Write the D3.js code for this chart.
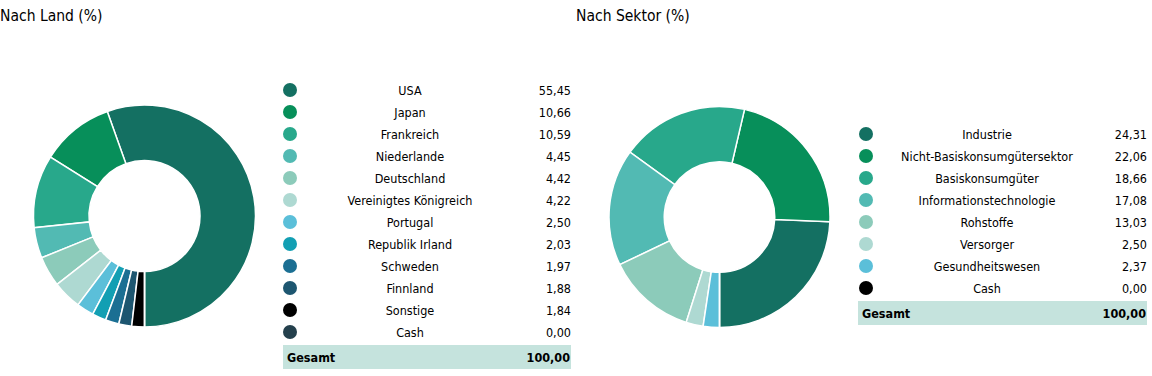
<!DOCTYPE html>
<html><head><meta charset="utf-8">
<script src="https://cdn.jsdelivr.net/npm/d3@7"></script>
<style>
body{margin:0;background:#fff;}
svg{display:block;font-family:"Liberation Sans Narrow","DejaVu Sans Condensed","Roboto Condensed",sans-serif;}
</style></head><body>
<svg id="c" width="1152" height="376"></svg>
<script>
const landLabels = ["USA","Japan","Frankreich","Niederlande","Deutschland","Vereinigtes Königreich","Portugal","Republik Irland","Schweden","Finnland","Sonstige","Cash"];
const landValues = [55.45,10.66,10.59,4.45,4.42,4.22,2.50,2.03,1.97,1.88,1.84,0.00];
const landColors = ["#147062","#078f5a","#28a88b","#52bab3","#8ccbba","#aed9d2","#5bbfd9","#129fb3","#1b6f93","#1d5670","#000000","#24404c"];
const sektorLabels = ["Industrie","Nicht-Basiskonsumgütersektor","Basiskonsumgüter","Informationstechnologie","Rohstoffe","Versorger","Gesundheitswesen","Cash"];
const sektorValues = [24.31,22.06,18.66,17.08,13.03,2.50,2.37,0.00];
const sektorColors = ["#147062","#078f5a","#28a88b","#52bab3","#8ccbba","#aed9d2","#5bbfd9","#000000"];
const totalLabel = "Gesamt";
const totalValue = "100,00";

const svg = d3.select("#c");
const fmt = v => v.toFixed(2).replace(".", ",");

function panel(cfg){
  const g = svg.append("g");
  g.append("text").attr("x", cfg.titleX).attr("y", 21).attr("font-size", 15.5).attr("fill", "#000").text(cfg.title);
  const pie = d3.pie().sort(null).startAngle(Math.PI).endAngle(-Math.PI);
  const arc = d3.arc().innerRadius(cfg.r * 0.5).outerRadius(cfg.r);
  const arcs = pie(cfg.values);
  g.append("g").attr("transform", `translate(${cfg.cx},${cfg.cy})`)
    .selectAll("path").data(arcs).join("path")
    .attr("d", arc).attr("fill", (d,i) => cfg.colors[i])
    .attr("stroke", "#fff").attr("stroke-width", 1.5);
  const y = d3.scalePoint().domain(d3.range(cfg.labels.length + 1)).range([cfg.y0, cfg.y0 + cfg.step * cfg.labels.length]);
  const rows = g.selectAll("g.row").data(cfg.labels).join("g").attr("class","row")
    .attr("transform", (d,i) => `translate(0,${y(i)})`);
  rows.append("circle").attr("cx", cfg.dotX).attr("cy", 0).attr("r", 7).attr("fill", (d,i) => cfg.colors[i]);
  rows.append("text").attr("x", cfg.labelX).attr("y", 4.5).attr("text-anchor","middle").attr("font-size", 12.5).attr("fill","#000").text(d => d);
  rows.append("text").attr("x", cfg.valX).attr("y", 4.5).attr("text-anchor","end").attr("font-size", 12.5).attr("fill","#000").text((d,i) => fmt(cfg.values[i]));
  const ty = y(cfg.labels.length) + 3;
  g.append("rect").attr("x", cfg.barX0).attr("y", ty - 12).attr("width", cfg.valX - cfg.barX0).attr("height", 24).attr("fill", "#c5e3dd");
  g.append("text").attr("x", cfg.barX0 + 4).attr("y", ty + 4.5).attr("font-size", 12.5).attr("font-weight","bold").attr("fill","#000").text(totalLabel);
  g.append("text").attr("x", cfg.valX - 1).attr("y", ty + 4.5).attr("text-anchor","end").attr("font-size", 12.5).attr("font-weight","bold").attr("fill","#000").text(totalValue);
}

panel({title:"Nach Land (%)", titleX:0, labels:landLabels, values:landValues, colors:landColors,
  cx:144.5, cy:216, r:111, y0:90, step:22, dotX:290, labelX:410, valX:571, barX0:283});
panel({title:"Nach Sektor (%)", titleX:576, labels:sektorLabels, values:sektorValues, colors:sektorColors,
  cx:719.5, cy:217, r:110.5, y0:134, step:22, dotX:866, labelX:987, valX:1147, barX0:858});
</script>
</body></html>
